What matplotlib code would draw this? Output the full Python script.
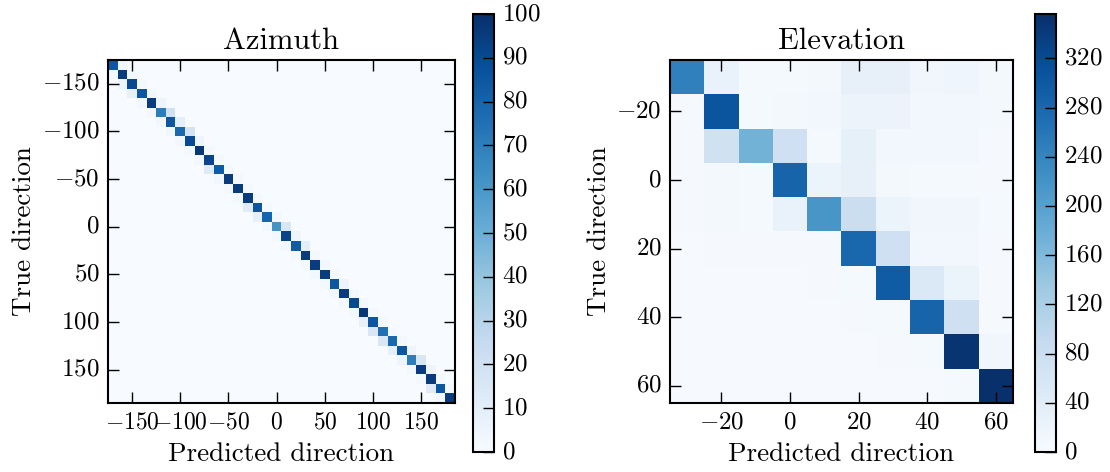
import numpy as np
import matplotlib
matplotlib.use("Agg")
import matplotlib.pyplot as plt

plt.style.use("classic")
plt.rcParams["font.family"] = "serif"
plt.rcParams["font.serif"] = ["cmr10"]
plt.rcParams["mathtext.fontset"] = "cm"
plt.rcParams["axes.formatter.use_mathtext"] = True
plt.rcParams["axes.unicode_minus"] = True
plt.rcParams["figure.facecolor"] = "white"
plt.rcParams["savefig.facecolor"] = "white"

# azimuth classes (degrees) and confusion values (percent)
az_classes = np.arange(-170, 181, 10)
az_diag = [85, 95, 90, 85, 95, 70, 85, 78, 90, 97, 92, 83, 95, 95, 95, 85, 80, 62,
           92, 83, 95, 95, 95, 85, 95, 90, 97, 85, 75, 78, 85, 70, 95, 95, 85, 95]
# row i -> column i+1
az_upper = [3, 2, 2, 3, 5, 20, 10, 18, 5, 2, 2, 2, 2, 2, 2, 2, 3, 15,
            5, 10, 2, 3, 2, 5, 2, 3, 2, 2, 2, 2, 5, 15, 5, 2, 2]
# row i -> column i-1
az_lower = [2, 5, 8, 3, 3, 3, 3, 3, 2, 3, 12, 3, 2, 2, 12, 8, 3,
            2, 2, 2, 2, 2, 2, 3, 2, 2, 8, 15, 15, 8, 5, 3, 2, 12, 3]
az_ticks = [-150, -100, -50, 0, 50, 100, 150]

# elevation classes (degrees) and confusion counts
el_classes = np.arange(-30, 61, 10)
el_counts = [
    [245, 25, 5, 5, 8, 28, 28, 12, 15, 8],
    [3, 305, 5, 8, 10, 20, 20, 10, 10, 8],
    [3, 70, 170, 75, 5, 30, 10, 10, 10, 3],
    [3, 8, 5, 285, 22, 28, 8, 5, 5, 3],
    [3, 8, 5, 25, 215, 78, 22, 12, 12, 5],
    [2, 3, 3, 3, 3, 280, 75, 10, 10, 3],
    [2, 2, 2, 2, 3, 5, 295, 50, 22, 3],
    [2, 2, 2, 2, 2, 3, 5, 285, 75, 3],
    [2, 2, 2, 2, 2, 2, 3, 5, 350, 12],
    [2, 2, 2, 2, 2, 2, 2, 2, 5, 356],
]
el_ticks = [-20, 0, 20, 40, 60]

az = np.diag(az_diag).astype(float)
az += np.diag(az_upper, k=1) + np.diag(az_lower, k=-1)
el = np.array(el_counts, dtype=float)


def extent(classes):
    step = classes[1] - classes[0]
    return [classes[0] - step / 2, classes[-1] + step / 2,
            classes[-1] + step / 2, classes[0] - step / 2]


fig = plt.figure(figsize=(11.1, 4.72), dpi=100)
W, H = 1110.0, 472.0
ax1 = fig.add_axes([108 / W, 1 - 403 / H, 347 / W, 343 / H])
cax1 = fig.add_axes([473 / W, 1 - 452 / H, 21 / W, 438 / H])
ax2 = fig.add_axes([670 / W, 1 - 403 / H, 343 / W, 343 / H])
cax2 = fig.add_axes([1035 / W, 1 - 452 / H, 21 / W, 438 / H])

panels = [
    (ax1, cax1, az, az_classes, az_ticks, "Azimuth", 100, np.arange(0, 101, 10), 17),
    (ax2, cax2, el, el_classes, el_ticks, "Elevation", el.max(), np.arange(0, 321, 40), 18),
]
for ax, cax, mat, classes, ticks, title, vmax, cticks, xsize in panels:
    im = ax.imshow(mat, cmap="Blues", interpolation="nearest", vmin=0, vmax=vmax,
                   extent=extent(classes), aspect="auto")
    ax.set_xticks(ticks)
    ax.set_yticks(ticks)
    ax.set_title(title, fontsize=22, pad=8)
    ax.set_xlabel("Predicted direction", fontsize=19.5, labelpad=6)
    ax.set_ylabel("True direction", fontsize=19.5, labelpad=4)
    ax.tick_params(labelsize=18, direction="in", length=8, width=1, pad=6,
                   top=True, right=True, labeltop=False, labelright=False)
    ax.tick_params(axis="x", labelsize=xsize)
    for sp in ax.spines.values():
        sp.set_linewidth(1.5)
    cb = fig.colorbar(im, cax=cax, ticks=cticks)
    cb.ax.tick_params(labelsize=18, direction="in", length=8, width=1, pad=6)
    cb.outline.set_linewidth(1.5)

fig.savefig("out.png", dpi=100)
